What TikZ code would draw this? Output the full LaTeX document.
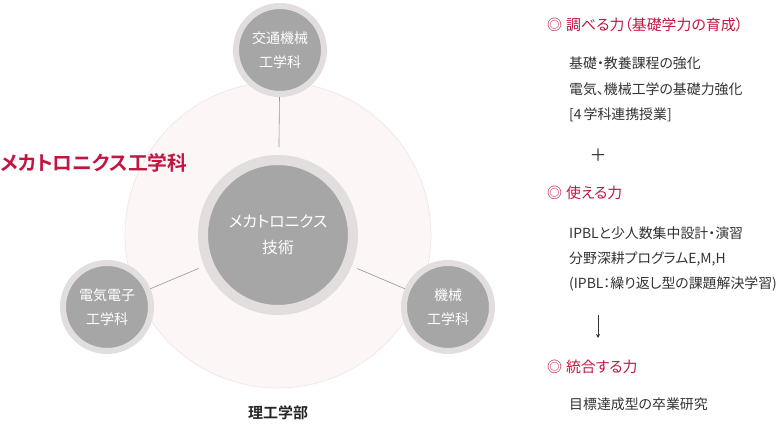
\documentclass[tikz,border=0pt]{standalone}
\usepackage{fontspec}
\setmainfont{Noto Sans CJK JP}[BoldFont={Noto Sans CJK JP Bold}, RawFeature=+palt]
\usetikzlibrary{arrows.meta}
\definecolor{accent}{RGB}{193,22,65}
\definecolor{nodegray}{RGB}{166,166,166}
\definecolor{ringgray}{RGB}{226,222,222}
\definecolor{bigfill}{RGB}{253,246,246}
\definecolor{bigline}{RGB}{242,232,232}
\definecolor{bodytext}{RGB}{51,51,51}
\definecolor{linkgray}{RGB}{150,150,150}
\tikzset{
  dept/.style={circle, fill=nodegray, draw=ringgray, line width=6pt, minimum size=88pt, inner sep=0pt, text=white, align=center, font=\fontsize{14}{23.5}\selectfont},
  core/.style={circle, fill=nodegray, draw=ringgray, line width=10pt, minimum size=150pt, inner sep=0pt, text=white, align=center, font=\fontsize{15.8}{26}\selectfont},
  link/.style={draw=linkgray, line width=0.6pt},
  heading/.style={anchor=west, text=accent, inner sep=0pt, font=\fontsize{14.9}{16}\selectfont},
  body/.style={anchor=west, text=bodytext, inner sep=0pt, font=\fontsize{13.9}{16}\selectfont},
}
\begin{document}
\begin{tikzpicture}[x=1pt,y=-1pt]
\useasboundingbox (0,0) rectangle (777,425);
\fill[bigfill, draw=bigline, line width=0.8pt] (278,235) circle (153);
\node[core] (c) at (278,235) {メカトロニクス\\技術};
\node[dept] (t) at (280,50) {交通機械\\工学科};
\node[dept] (l) at (107,307) {電気電子\\工学科};
\node[dept] (r) at (448,307) {機械\\工学科};
\draw[link, shorten >=8pt] (t) -- (c);
\draw[link, shorten >=6pt] (l) -- (c);
\draw[link, shorten >=6pt] (r) -- (c);
\node[anchor=west, text=accent, inner sep=0pt, font=\bfseries\fontsize{19.8}{21}\selectfont] (title) at (0,163) {メカトロニクス工学科};
\node[inner sep=0pt, text=black!85, font=\bfseries\fontsize{15}{17}\selectfont] (fac) at (278,413) {理工学部};
% right column
\node[heading] (h1) at (547,25) {◎\hspace{4pt}調べる力（基礎学力の育成）};
\node[body] (b1) at (569,63) {基礎・教養課程の強化};
\node[body] (b2) at (569,89) {電気、機械工学の基礎力強化};
\node[body] (b3) at (569,115) {[4\hspace{2pt}学科連携授業]};
\node[inner sep=0pt, text=bodytext, font=\fontsize{17}{18}\selectfont] (plus) at (598,155) {＋};
\node[heading] (h2) at (547,193) {◎\hspace{4pt}使える力};
\node[body] (b4) at (569,233) {IPBLと少人数集中設計・演習};
\node[body] (b5) at (569,259) {分野深耕プログラムE,M,H};
\node[body] (b6) at (569,284) {(IPBL：繰り返し型の課題解決学習)};
\coordinate (as) at (598,315);
\coordinate (ae) at (598,338);
\draw[bodytext, line width=0.7pt, -{Stealth[length=4pt,width=4pt]}] (as) -- (ae);
\node[heading] (h3) at (547,367) {◎\hspace{4pt}統合する力};
\node[body] (b7) at (569,404) {目標達成型の卒業研究};
\end{tikzpicture}
\end{document}
